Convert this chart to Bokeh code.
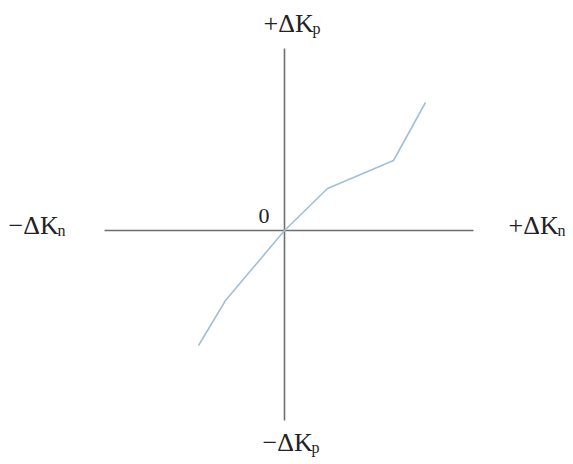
from bokeh.plotting import figure
from bokeh.models import ColumnDataSource
from bokeh.core.properties import value
from bokeh.embed import file_html
from bokeh.resources import INLINE

# Characteristic curve (ΔKn, ΔKp), origin at the axes crossing
curve_dn = [-0.86, -0.59, 0.0, 0.43, 0.69, 1.09, 1.41]
curve_dp = [-1.15, -0.70, 0.0, 0.42, 0.53, 0.70, 1.28]

# Axis extents
axis_n = [-1.80, 1.89]
axis_p = [-1.90, 1.82]

# Axis labels: main part and subscript
label_main = ["+ΔK", "−ΔK", "+ΔK", "−ΔK"]
label_sub = ["p", "n", "n", "p"]
label_x = [-0.21, -2.76, 2.24, -0.22]
label_y = [2.07, 0.05, 0.05, -2.12]
sub_x = [0.28, -2.27, 2.73, 0.27]
sub_y = [2.02, 0.00, 0.00, -2.17]

FONT = value("Liberation Serif")

p = figure(width=573, height=464, x_range=(-2.84, 2.89), y_range=(-2.34, 2.30),
           output_backend="svg", toolbar_location=None, min_border=0,
           outline_line_color=None, background_fill_color="white")
p.axis.visible = False
p.grid.visible = False

# Cross of axes
p.line(axis_n, [0, 0], line_color="#6e6e6e", line_width=1.6)
p.line([0, 0], axis_p, line_color="#6e6e6e", line_width=1.6)

# Curve
p.line(curve_dn, curve_dp, line_color="#a3bfd8", line_width=1.6)

src = ColumnDataSource(dict(x=label_x, y=label_y, t=label_main))
p.text("x", "y", text="t", source=src, text_font=FONT, text_font_size="26px",
       text_color="#222222", text_align="left", text_baseline="alphabetic")
src_sub = ColumnDataSource(dict(x=sub_x, y=sub_y, t=label_sub))
p.text("x", "y", text="t", source=src_sub, text_font=FONT, text_font_size="16px",
       text_color="#222222", text_align="left", text_baseline="alphabetic")

# Origin label
p.text([-0.26], [0.15], text=["0"], text_font=FONT, text_font_size="22px",
       text_color="#222222", text_align="left", text_baseline="alphabetic")

open("out.html", "w").write(file_html(p, INLINE))
